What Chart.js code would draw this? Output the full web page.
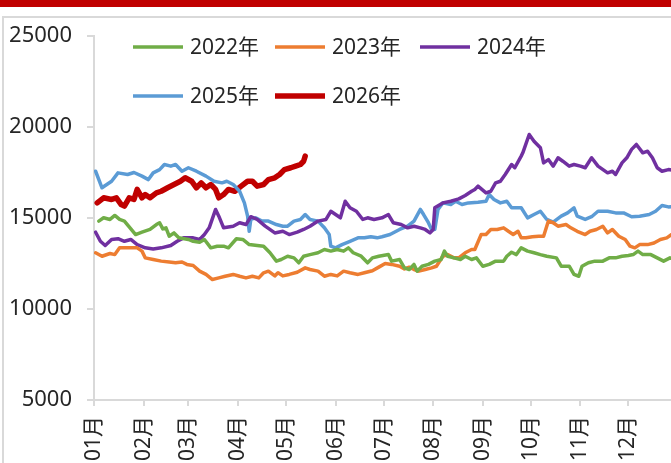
<!DOCTYPE html>
<html>
<head>
<meta charset="utf-8">
<script src="https://cdn.jsdelivr.net/npm/chart.js@4.4.1/dist/chart.umd.min.js"></script>
<style>
html, body { margin:0; padding:0; background:#fff; overflow:hidden; width:671px; height:463px; }
#band { position:absolute; left:0; top:0; width:671px; height:7px; background:#c00000; }
#frame { position:absolute; left:2px; top:16px; width:720px; height:520px; border-left:2px solid #d9d9d9; border-top:2px solid #d9d9d9; }
#wrap { position:absolute; left:0; top:0; width:678px; height:463px; }
</style>
</head>
<body>
<div id="band"></div>
<div id="frame"></div>
<div id="wrap"><canvas id="chart" width="678" height="463"></canvas></div>
<script>
// month ticks (day of year) and their labels
const monthStarts = [0, 31, 59, 90, 120, 151, 181, 212, 243, 273, 304, 334];
const monthLabels = ["01月", "02月", "03月", "04月", "05月", "06月", "07月", "08月", "09月", "10月", "11月", "12月"];

const seriesNames = ["2022年", "2023年", "2024年", "2025年", "2026年"];
const seriesColors = ["#70ad47", "#ed7d31", "#7030a0", "#5b9bd5", "#c00000"];

// 2022
const days2022 = [3,6,10,13,16,19,22,26,30,35,39,41,43,45,47,50,53,59,62,66,69,73,77,81,84,89,93,97,102,106,110,114,117,121,125,128,131,135,140,144,148,152,156,159,162,167,171,174,178,184,186,191,194,197,200,202,205,209,213,217,219,221,225,229,232,236,239,243,247,251,256,258,261,264,267,271,275,279,283,289,292,297,300,303,305,309,313,318,322,326,330,334,337,340,343,348,352,356,360,364];
const vals2022 = [14830,15010,14920,15140,14920,14830,14510,14090,14220,14370,14640,14740,14400,14460,14000,14180,13910,13820,13720,13670,13820,13360,13450,13450,13360,13860,13820,13540,13490,13450,13090,12630,12720,12900,12810,12540,12900,12990,13090,13270,13180,13270,13180,13360,13090,12900,12540,12810,12900,12990,12630,12720,12260,12170,12450,12080,12350,12450,12630,12720,13180,12900,12810,12720,12900,12720,12810,12350,12450,12630,12630,12900,13120,12990,13360,13180,13090,12990,12900,12810,12350,12350,11900,11800,12350,12540,12630,12630,12810,12810,12900,12940,12990,13180,12990,12990,12810,12630,12810,12700];

// 2023
const days2023 = [1,5,10,13,16,21,27,30,32,37,42,47,51,55,58,62,66,70,74,78,82,87,91,95,99,103,106,109,113,115,118,122,127,132,135,140,144,148,152,156,160,165,169,174,178,182,186,191,194,197,200,203,207,211,214,218,221,225,228,232,236,238,242,245,248,252,256,259,262,265,267,270,274,278,281,284,287,290,295,298,302,307,310,314,318,321,324,328,332,335,338,341,346,350,354,358,361,364];
const vals2023 = [13090,12900,13050,12990,13360,13360,13360,13180,12810,12720,12630,12580,12540,12580,12450,12390,12080,11900,11620,11710,11800,11900,11800,11710,11800,11710,11990,12080,11820,11990,11820,11900,12020,12260,12170,12080,11800,11900,11820,12080,11990,11900,11990,12100,12300,12500,12450,12350,12200,12300,12170,12080,12170,12260,12350,12900,12990,12810,12810,13090,13270,13270,14090,14090,14370,14370,14460,14270,14090,14270,13910,13910,13970,14000,14000,14830,14740,14550,14640,14460,14270,14090,14270,14370,14550,14180,14370,14000,13820,13450,13360,13540,13540,13630,13820,13910,14090,14150];

// 2024
const days2024 = [1,4,7,11,15,19,23,27,32,37,42,48,52,56,62,66,69,72,76,78,81,87,91,95,98,102,107,113,118,122,127,131,135,140,145,148,151,154,157,160,164,168,171,175,180,184,187,192,196,200,204,207,210,212,213,218,223,228,232,236,238,240,245,248,251,254,257,261,263,267,268,272,275,279,281,284,287,290,293,297,300,304,307,311,315,321,324,326,330,333,336,339,343,346,349,352,355,359,364];
const vals2024 = [14220,13720,13490,13820,13860,13720,13820,13540,13360,13300,13360,13490,13720,13910,13910,13820,14090,14460,15470,15100,14460,14550,14740,14640,15070,14920,14550,14180,14270,14090,14220,14370,14550,14830,14920,15370,15190,15010,15920,15560,15370,14920,15010,14920,15010,15190,14740,14640,14460,14550,14460,14370,14180,14370,15560,15830,15920,16050,16240,16470,16570,16750,16380,16470,16930,17020,17390,17940,17760,18400,18580,19590,19220,18860,18030,18210,17850,18310,18120,17850,17940,17850,17760,18310,17850,17480,17570,17390,18030,18310,18770,19040,18580,18670,18310,17760,17570,17660,17600];

// 2025
const days2025 = [1,5,11,15,21,25,30,34,37,41,44,48,51,55,59,64,70,75,80,83,87,91,94,96,97,98,101,105,109,114,118,121,125,129,132,135,140,144,147,148,151,155,160,165,169,173,177,180,185,191,196,200,204,206,209,211,213,215,218,223,226,230,234,240,245,247,250,254,258,261,267,271,275,279,283,287,292,296,300,302,307,311,315,321,326,331,336,341,347,351,355,359,364];
const vals2025 = [17570,16660,17020,17480,17390,17500,17300,17110,17480,17660,17940,17850,17940,17570,17760,17570,17300,17020,16930,17020,16840,16470,15830,15100,14270,14920,15010,14830,14830,14640,14550,14550,14830,14920,15190,14920,14830,14460,14090,13450,13360,13540,13720,13910,13910,13970,13910,13970,14090,14370,14550,14830,15470,15190,14740,14370,14370,15470,15830,15740,15920,15740,15830,15870,15920,16290,16020,15830,15920,15560,15560,15010,15190,15370,14920,14770,15100,15280,15560,15100,14920,15070,15370,15370,15280,15280,15070,15100,15190,15370,15690,15610,15650];

// 2026
const days2026 = [2,6,11,14,17,19,22,25,27,30,32,35,39,42,46,50,54,57,61,64,67,70,73,76,78,81,84,88,92,96,99,102,106,109,113,116,119,123,126,129,131,132];
const vals2026 = [15830,16110,16020,16110,15740,15650,16110,16020,16570,16110,16290,16110,16380,16470,16660,16840,17020,17210,17020,16660,16930,16660,16840,16570,16110,16290,16570,16470,16750,17020,17020,16750,16840,17110,17210,17390,17660,17760,17850,17940,18120,18400];

const allDays = [days2022, days2023, days2024, days2025, days2026];
const allVals = [vals2022, vals2023, vals2024, vals2025, vals2026];

const FONT = '"Noto Sans", "Noto Sans CJK SC", sans-serif';
const TEXT = '#262626';
const AXIS = '#d9d9d9';

const datasets = seriesNames.map((name, i) => ({
    label: name,
    data: allDays[i].map((d, k) => ({ x: d, y: allVals[i][k] })),
    borderColor: seriesColors[i],
    backgroundColor: seriesColors[i],
    borderWidth: i === 4 ? 5.5 : 3.5,
    pointRadius: 0,
    tension: 0,
    borderJoinStyle: 'round',
    borderCapStyle: 'round',
}));

// legend drawn inside the plot, two rows
const insideLegend = {
    id: 'insideLegend',
    afterDatasetsDraw(chart) {
        const ctx = chart.ctx;
        const cols = [133, 275, 420];
        const rows = [47, 96];
        ctx.save();
        ctx.font = '21px ' + FONT;
        ctx.textBaseline = 'middle';
        ctx.fillStyle = TEXT;
        chart.data.datasets.forEach((ds, i) => {
            const x = cols[i % 3];
            const y = rows[Math.floor(i / 3)];
            ctx.strokeStyle = ds.borderColor;
            ctx.lineWidth = ds.borderWidth;
            ctx.lineCap = 'butt';
            ctx.beginPath();
            ctx.moveTo(x, y);
            ctx.lineTo(x + 50, y);
            ctx.stroke();
            ctx.fillText(ds.label, x + 57, y + 1);
        });
        ctx.restore();
    }
};

new Chart(document.getElementById('chart').getContext('2d'), {
    type: 'line',
    data: { datasets },
    plugins: [insideLegend],
    options: {
        responsive: false,
        animation: false,
        layout: { padding: { top: 36, left: 0, right: 0, bottom: 0 } },
        plugins: { legend: { display: false }, tooltip: { enabled: false } },
        scales: {
            x: {
                type: 'linear',
                min: 0,
                max: 365,
                afterBuildTicks: s => { s.ticks = monthStarts.map(v => ({ value: v })); },
                afterFit: s => { s.height = 63; },
                ticks: {
                    autoSkip: false,
                    minRotation: 90,
                    maxRotation: 90,
                    padding: 10,
                    color: TEXT,
                    font: { family: FONT, size: 21 },
                    callback: v => monthLabels[monthStarts.indexOf(v)],
                },
                grid: { drawOnChartArea: false, color: AXIS, tickLength: 6, lineWidth: 2 },
                border: { color: AXIS, width: 2 },
            },
            y: {
                min: 5000,
                max: 25000,
                afterFit: s => { s.width = 94; },
                ticks: {
                    stepSize: 5000,
                    padding: 15,
                    color: TEXT,
                    font: { family: FONT, size: 22 },
                    callback: v => String(v),
                },
                grid: { drawOnChartArea: false, color: AXIS, tickLength: 7, lineWidth: 2 },
                border: { color: AXIS, width: 2 },
            },
        },
    },
});
</script>
</body>
</html>
